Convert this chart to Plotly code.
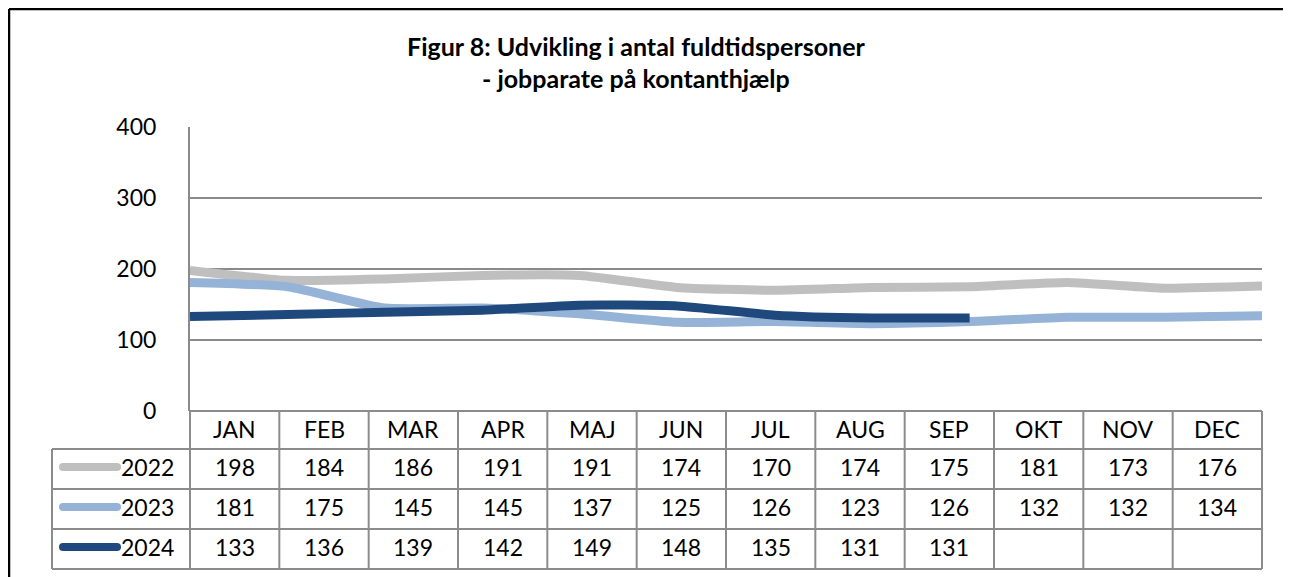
import plotly.graph_objects as go

# ---- data ----
months = ["JAN", "FEB", "MAR", "APR", "MAJ", "JUN", "JUL", "AUG", "SEP", "OKT", "NOV", "DEC"]
series_names = ["2022", "2023", "2024"]
y2022 = [198, 184, 186, 191, 191, 174, 170, 174, 175, 181, 173, 176]
y2023 = [181, 175, 145, 145, 137, 125, 126, 123, 126, 132, 132, 134]
y2024 = [133, 136, 139, 142, 149, 148, 135, 131, 131]
y_ticks = [0, 100, 200, 300, 400]
title_line1 = "Figur 8: Udvikling i antal fuldtidspersoner"
title_line2 = "- jobparate på kontanthjælp"

colors = ["#BFBFBF", "#95B3D7", "#1F497D"]
series = [y2022, y2023, y2024]

OFF = 8  # default page body margin
W, H = 1291 - OFF, 577 - OFF
L, R, T, B = 190 - OFF, 1262 - OFF, 127 - OFF, 411 - OFF  # plot area in pixels
FONT = "Lato"
FS = 23
GRID = "#8A8A8A"
TBL = "#8C8C8C"


def px(x):
    return (x - OFF - L) / (R - L)


def py(y):
    return (B - (y - OFF)) / (B - T)


fig = go.Figure()
for name, vals, col in zip(series_names, series, colors):
    fig.add_trace(go.Scatter(
        x=list(range(len(vals))), y=vals, name=name, mode="lines",
        line=dict(color=col, width=9, shape="spline", smoothing=0.5),
        showlegend=False, hoverinfo="skip"))

shapes = []
ann = []

# outer chart border (top and left visible)
shapes.append(dict(type="line", xref="paper", yref="paper", x0=px(9), x1=px(1300),
                   y0=py(9), y1=py(9), line=dict(color="black", width=2.5)))
shapes.append(dict(type="line", xref="paper", yref="paper", x0=px(9), x1=px(9),
                   y0=py(9), y1=py(590), line=dict(color="black", width=2.5)))

# table grid
n = len(months)
col_edges = [i / n for i in range(n + 1)]
row_lines = [449, 489, 529, 569]
for xe in col_edges:
    shapes.append(dict(type="line", xref="paper", yref="paper", x0=xe, x1=xe,
                       y0=py(411), y1=py(569), line=dict(color=TBL, width=2)))
shapes.append(dict(type="line", xref="paper", yref="paper", x0=0, x1=1,
                   y0=py(411), y1=py(411), line=dict(color=TBL, width=2)))
for ry in row_lines:
    shapes.append(dict(type="line", xref="paper", yref="paper", x0=px(52), x1=1,
                       y0=py(ry), y1=py(ry), line=dict(color=TBL, width=2)))
shapes.append(dict(type="line", xref="paper", yref="paper", x0=px(52), x1=px(52),
                   y0=py(449), y1=py(569), line=dict(color=TBL, width=2)))

# month header
for i, m in enumerate(months):
    ann.append(dict(xref="paper", yref="paper", x=(i + 0.5) / n, y=py(429), text=m,
                    showarrow=False, xanchor="center", yanchor="middle",
                    font=dict(family=FONT, size=FS, color="black")))

# data rows
row_centers = [467, 507, 547]
for r, (name, vals, col) in enumerate(zip(series_names, series, colors)):
    yc = row_centers[r]
    for i, v in enumerate(vals):
        ann.append(dict(xref="paper", yref="paper", x=(i + 0.5) / n, y=py(yc), text=str(v),
                        showarrow=False, xanchor="center", yanchor="middle",
                        font=dict(family=FONT, size=FS, color="black")))
    # legend key
    shapes.append(dict(type="line", xref="paper", yref="paper", x0=px(63), x1=px(117),
                       y0=py(yc), y1=py(yc), line=dict(color=col, width=8)))
    for cx in (63, 117):
        shapes.append(dict(type="circle", xref="paper", yref="paper",
                           x0=px(cx - 4), x1=px(cx + 4), y0=py(yc - 4), y1=py(yc + 4),
                           fillcolor=col, line=dict(width=0)))
    ann.append(dict(xref="paper", yref="paper", x=px(119), y=py(yc), text=name,
                    showarrow=False, xanchor="left", yanchor="middle",
                    font=dict(family=FONT, size=FS, color="black")))

# title
ann.append(dict(xref="paper", yref="paper", x=px(636), y=py(46), text="<b>" + title_line1 + "</b>",
                showarrow=False, xanchor="center", yanchor="middle",
                font=dict(family=FONT, size=25, color="black")))
ann.append(dict(xref="paper", yref="paper", x=px(636), y=py(78), text="<b>" + title_line2 + "</b>",
                showarrow=False, xanchor="center", yanchor="middle",
                font=dict(family=FONT, size=25, color="black")))

fig.update_layout(
    width=W, height=H,
    margin=dict(l=L, r=W - R, t=T, b=H - B, pad=0),
    paper_bgcolor="white", plot_bgcolor="white",
    shapes=shapes, annotations=ann,
    xaxis=dict(range=[0, n - 1], showgrid=False, zeroline=False, showticklabels=False,
               showline=False, ticks="", fixedrange=True),
    yaxis=dict(range=[0, 400], tickvals=y_ticks, showgrid=True, gridcolor=GRID, gridwidth=2,
               zeroline=False, showline=True, linecolor=GRID, linewidth=2, ticks="",
               ticklabelstandoff=27, tickfont=dict(family=FONT, size=FS, color="black"),
               fixedrange=True),
)

fig.write_html("out.html")
